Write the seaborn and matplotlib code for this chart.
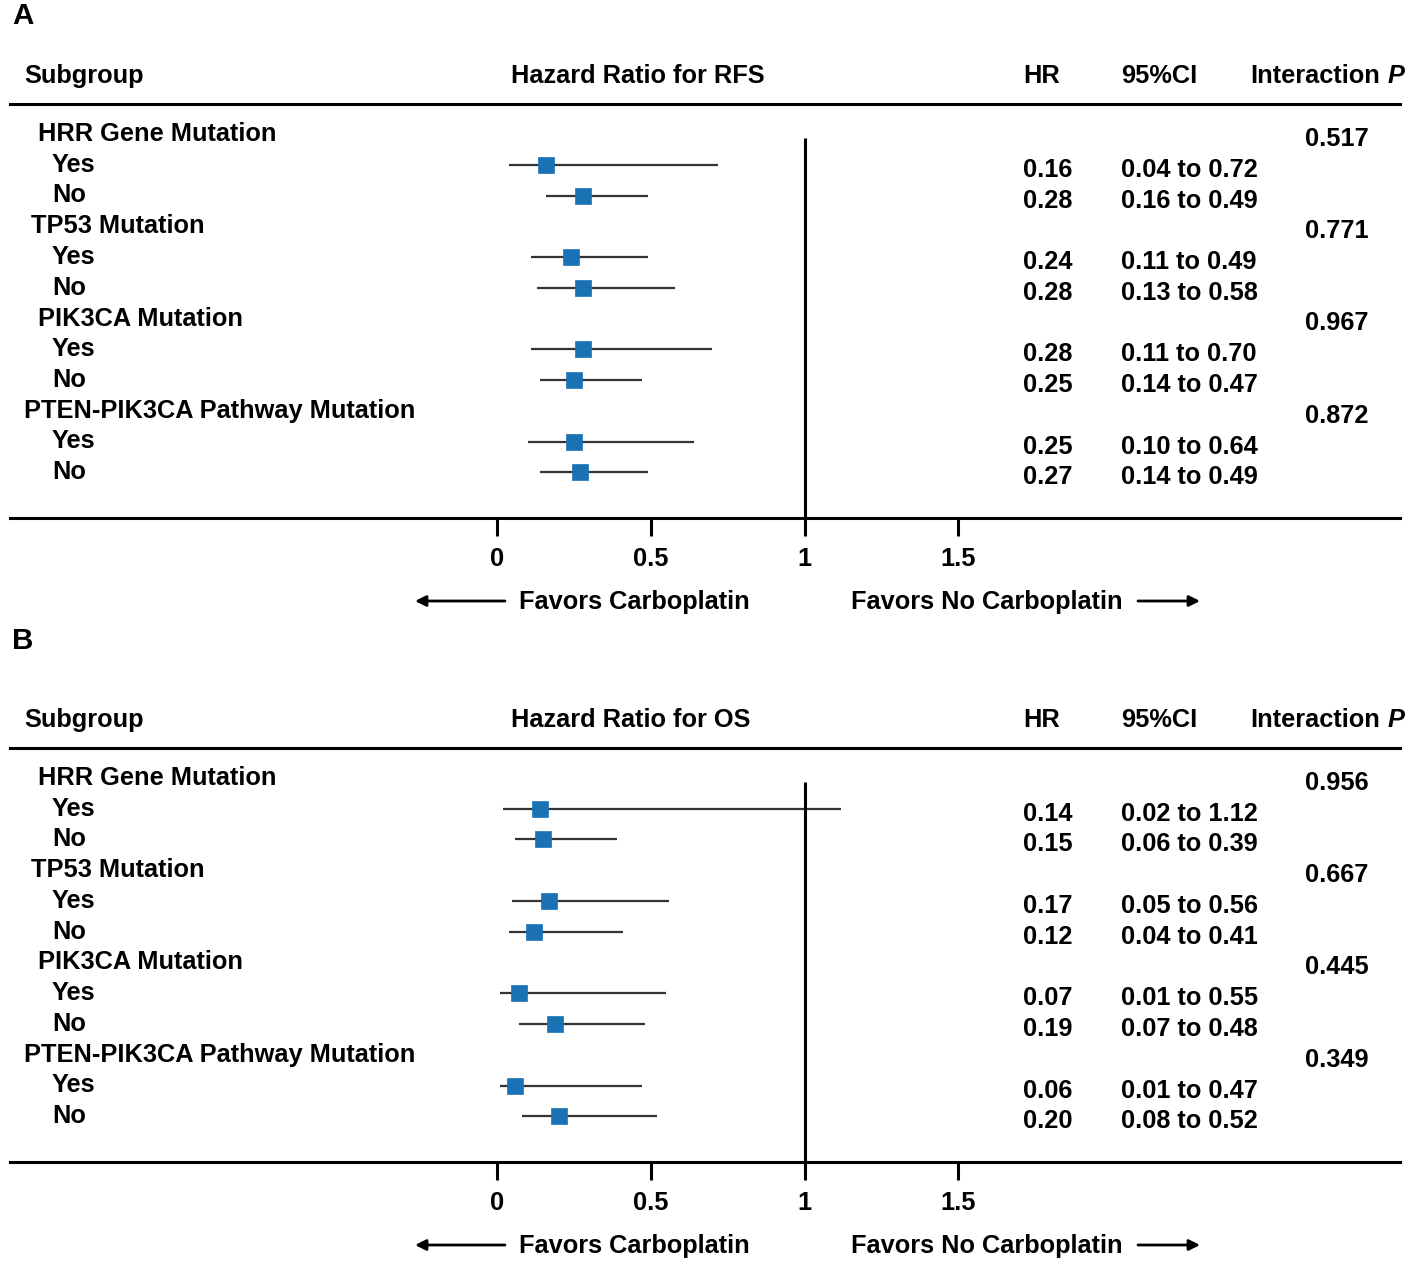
import numpy as np
import pandas as pd
import matplotlib
matplotlib.use("Agg")
import matplotlib.pyplot as plt
import matplotlib.transforms as mtransforms
import seaborn as sns

# ---- data ----
groups = ["HRR Gene Mutation", "TP53 Mutation", "PIK3CA Mutation", "PTEN-PIK3CA Pathway Mutation"]
group_indent = [38, 31, 38, 24]          # pixel indent of each group title (as in the figure)
levels = ["Yes", "No"]

hr_rfs = [0.16, 0.28, 0.24, 0.28, 0.28, 0.25, 0.25, 0.27]
lo_rfs = [0.04, 0.16, 0.11, 0.13, 0.11, 0.14, 0.10, 0.14]
hi_rfs = [0.72, 0.49, 0.49, 0.58, 0.70, 0.47, 0.64, 0.49]
p_rfs = ["0.517", "0.771", "0.967", "0.872"]

hr_os = [0.14, 0.15, 0.17, 0.12, 0.07, 0.19, 0.06, 0.20]
lo_os = [0.02, 0.06, 0.05, 0.04, 0.01, 0.07, 0.01, 0.08]
hi_os = [1.12, 0.39, 0.56, 0.41, 0.55, 0.48, 0.47, 0.52]
p_os = ["0.956", "0.667", "0.445", "0.349"]

xticks = [0, 0.5, 1, 1.5]
xtick_labels = ["0", "0.5", "1", "1.5"]

panels = [
    ("A", "Hazard Ratio for RFS", hr_rfs, lo_rfs, hi_rfs, p_rfs),
    ("B", "Hazard Ratio for OS", hr_os, lo_os, hi_os, p_os),
]

sns.set_theme(style="white")
plt.rcParams["font.family"] = ["Liberation Sans", "DejaVu Sans"]
plt.rcParams["font.weight"] = "bold"
plt.rcParams["text.color"] = "black"

W, H = 1413, 1268
fig = plt.figure(figsize=(W / 100, H / 100), dpi=100)

FS = 18.3
BLUE = "#1a72b5"
LX0, LX1 = 10, 1400          # pixel extent of the rules
PX_PER_UNIT = 307.5          # pixels per HR unit
X0_PX = 497                  # pixel of HR = 0
ROW0, STEP = 30, 30.75       # first row and row spacing (local pixels)
AX_H = 414                   # rule-to-rule height in pixels
tops = [104, 748]            # pixel y of the top rule in each panel
tag_px = [15, 640]           # pixel y of the panel letters

for (tag, title, hr, lo, hi, pvals), top, tag_y in zip(panels, tops, tag_px):
    ax = fig.add_axes([LX0 / W, 1 - (top + AX_H) / H, (LX1 - LX0) / W, AX_H / H])
    ax.set_xlim((LX0 - X0_PX) / PX_PER_UNIT, (LX1 - X0_PX) / PX_PER_UNIT)
    ax.set_ylim(AX_H, 0)
    tr = mtransforms.blended_transform_factory(ax.transAxes, ax.transData)

    def tx(px):
        return (px - LX0) / (LX1 - LX0)

    # rows
    rows = []
    k = 0
    for gi, g in enumerate(groups):
        gy = ROW0 + (gi * 3) * STEP
        ax.text(tx(group_indent[gi]), gy, g, transform=tr, fontsize=FS, va="center", ha="left")
        ax.text(tx(1305), gy + 5, pvals[gi], transform=tr, fontsize=FS, va="center", ha="left")
        for li, lv in enumerate(levels):
            y = ROW0 + (gi * 3 + li + 1) * STEP
            rows.append({"label": lv, "y": y, "hr": hr[k], "lo": lo[k], "hi": hi[k]})
            k += 1
    df = pd.DataFrame(rows)

    for _, r in df.iterrows():
        ax.text(tx(52), r["y"], r["label"], transform=tr, fontsize=FS, va="center", ha="left")
        ax.text(tx(1023), r["y"] + 5, f"{r['hr']:.2f}", transform=tr, fontsize=FS, va="center", ha="left")
        ax.text(tx(1121), r["y"] + 5, f"{r['lo']:.2f} to {r['hi']:.2f}", transform=tr,
                fontsize=FS, va="center", ha="left")

    ax.hlines(df["y"], df["lo"], df["hi"], color="#333333", lw=1.6, zorder=2)
    sns.scatterplot(data=df, x="hr", y="y", marker="s", s=125, color=BLUE,
                    edgecolor=BLUE, linewidth=0.5, ax=ax, legend=False, zorder=3)
    ax.vlines(1, 34, AX_H, color="black", lw=2.2, zorder=2)

    # frame: top and bottom rules, ticks below the bottom rule
    for s in ["left", "right"]:
        ax.spines[s].set_visible(False)
    for s in ["top", "bottom"]:
        ax.spines[s].set_linewidth(2.2)
        ax.spines[s].set_color("black")
    ax.set_xticks(xticks)
    ax.set_xticklabels(xtick_labels)
    ax.tick_params(axis="x", direction="out", length=13, width=2.2, pad=8,
                   labelsize=FS, colors="black", bottom=True)
    ax.set_yticks([])
    ax.set_xlabel("")
    ax.set_ylabel("")

    # headers
    hy = -28
    ax.text(tx(24), hy, "Subgroup", transform=tr, fontsize=FS, va="center", ha="left")
    ax.text(tx(511), hy, title, transform=tr, fontsize=FS, va="center", ha="left")
    ax.text(tx(1023), hy, "HR", transform=tr, fontsize=FS, va="center", ha="left")
    ax.text(tx(1121), hy, "95%CI", transform=tr, fontsize=FS, va="center", ha="left")
    ax.text(tx(1250), hy, "Interaction", transform=tr, fontsize=FS, va="center", ha="left")
    ax.text(tx(1388), hy, "P", transform=tr, fontsize=FS, va="center", ha="left", style="italic")
    ax.text(tx(12), tag_y - top + 1, tag, transform=tr, fontsize=FS + 3, va="center", ha="left")

    # favour arrows
    fy = 498
    ax.text(tx(519), fy, "Favors Carboplatin", transform=tr, fontsize=FS, va="center", ha="left")
    ax.text(tx(851), fy, "Favors No Carboplatin", transform=tr, fontsize=FS, va="center", ha="left")
    for (x_from, x_to) in [(505, 415), (1138, 1200)]:
        ax.annotate("", xy=(tx(x_to), fy - 1), xytext=(tx(x_from), fy - 1), xycoords=tr, textcoords=tr,
                    annotation_clip=False,
                    arrowprops=dict(arrowstyle="-|>", color="black", lw=2, mutation_scale=16,
                                    shrinkA=0, shrinkB=0))

fig.savefig("out.png", dpi=100, facecolor="white")
